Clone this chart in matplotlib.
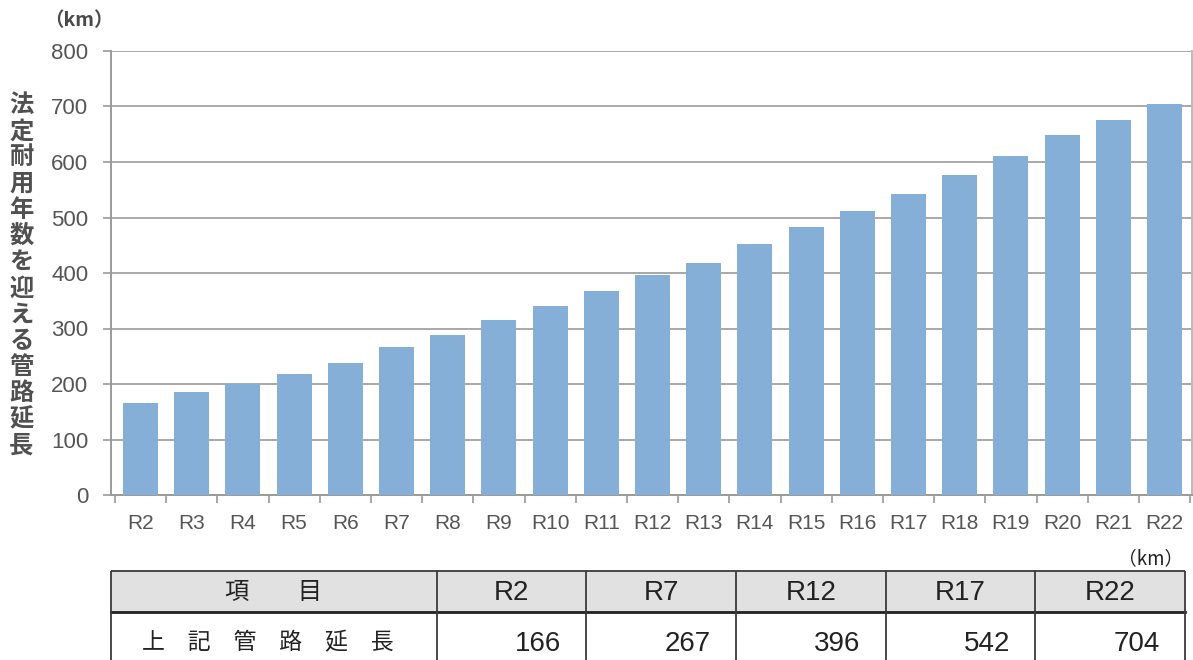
import numpy as np
import matplotlib
matplotlib.use("Agg")
import matplotlib.pyplot as plt
from matplotlib.patches import Rectangle

# pipe length reaching statutory service life, by fiscal year (km)
years = [f"R{n}" for n in range(2, 23)]
length_km = [166, 185, 200, 218, 238, 267, 289, 315, 340, 368, 396,
             418, 452, 483, 511, 542, 577, 611, 649, 675, 704]

# years picked out for the summary table
table_years = ["R2", "R7", "R12", "R17", "R22"]
table_km = [length_km[years.index(y)] for y in table_years]

yticks = [0, 100, 200, 300, 400, 500, 600, 700, 800]
ylabel = "法定耐用年数を迎える管路延長"

plt.rcParams['font.family'] = ['Liberation Sans', 'Noto Sans CJK JP']

W, H = 1193, 660
fig = plt.figure(figsize=(W / 100, H / 100), dpi=100)
fig.patch.set_facecolor("white")

# main bar chart, placed in pixel terms
left, right, top, bottom = 110.5, 1192, 51, 495
ax = fig.add_axes([left / W, 1 - bottom / H, (right - left) / W, (bottom - top) / H])

x = np.arange(len(years))
ax.bar(x, length_km, width=0.684, color="#85afd6", zorder=3)

ax.set_xlim(-0.586, len(years) - 1 + 0.537)
ax.set_ylim(0, 800)
ax.set_yticks(yticks)
ax.set_yticklabels([str(v) for v in yticks])
ax.yaxis.grid(True, color="#a8a8a8", linewidth=1.4, zorder=0)

ax.set_xticks(x)
ax.set_xticklabels(years)
ax.set_xticks(np.arange(len(years) + 1) - 0.5, minor=True)
ax.tick_params(axis="x", which="major", length=0, pad=14, labelsize=15, labelcolor="#555555")
ax.tick_params(axis="x", which="minor", length=6, width=1.2, color="#999999")
ax.tick_params(axis="y", length=6, width=1.2, color="#999999", pad=10,
               labelsize=16, labelcolor="#555555")

for side in ["left", "bottom", "right"]:
    ax.spines[side].set_color("#9a9a9a")
    ax.spines[side].set_linewidth(1.4)
ax.spines["right"].set_color("#bbbbbb")
ax.spines["top"].set_visible(False)

# unit above the y axis
fig.text(79 / W, 1 - 21 / H, "（km）", fontsize=14, color="#4a4a4a",
         ha="center", va="center", family=['Noto Sans CJK JP'], weight="bold")

# vertical y label, characters stacked upright
for i, ch in enumerate(ylabel):
    fig.text(21.5 / W, 1 - (105 + 26.2 * i) / H, ch, fontsize=17.5, color="#505050",
             ha="center", va="center", family=['Noto Sans CJK JP'], weight="bold")

# summary table drawn in figure pixels
tax = fig.add_axes([0, 0, 1, 1])
tax.set_xlim(0, W)
tax.set_ylim(H, 0)
tax.axis("off")

t_left, t_first, t_right = 111, 436.7, 1185
t_top, t_mid, t_bot = 571, 612.3, 690
col_edges = [t_left, t_first] + list(np.linspace(t_first, t_right, len(table_years) + 1)[1:])

tax.add_patch(Rectangle((t_left, t_top), t_right - t_left, t_mid - t_top,
                        facecolor="#e1e1e1", edgecolor="none"))
line_kw = dict(color="#3a3a3a", linewidth=1.3, solid_capstyle="butt")
tax.plot([t_left, t_right], [t_top, t_top], **line_kw)
tax.plot([t_left, t_right], [t_mid, t_mid], color="#222222", linewidth=2.0)
for xe in col_edges:
    tax.plot([xe, xe], [t_top, t_bot], **line_kw)

tax.text((t_left + t_first) / 2, 592, "項\u3000\u3000目", fontsize=17.5, color="#222222",
         ha="center", va="center", family=['Noto Sans CJK JP'])
tax.text((t_left + t_first) / 2 - 6, 643, "上\u3000記\u3000管\u3000路\u3000延\u3000長",
         fontsize=16.5, color="#222222", ha="center", va="center",
         family=['Noto Sans CJK JP'])

for i, (yr, km) in enumerate(zip(table_years, table_km)):
    c0, c1 = col_edges[i + 1], col_edges[i + 2]
    tax.text((c0 + c1) / 2, 593, yr, fontsize=20, color="#222222",
             ha="center", va="center")
    tax.text(c1 - 25, 644, f"{km}", fontsize=20, color="#222222",
             ha="right", va="center")

tax.text(t_right - 2, 559, "（km）", fontsize=13.5, color="#222222",
         ha="right", va="center", family=['Noto Sans CJK JP'])

fig.savefig("out.png", dpi=100, facecolor="white")
